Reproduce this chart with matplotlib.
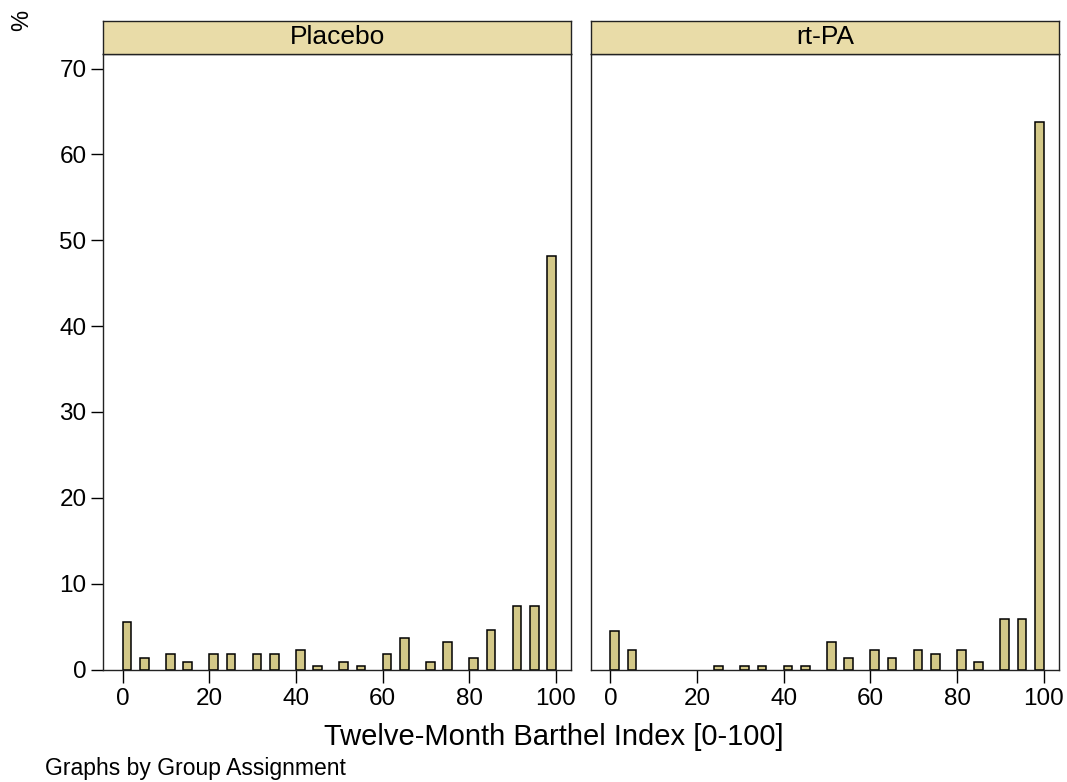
import numpy as np
import matplotlib
matplotlib.use("Agg")
from matplotlib import pyplot as plt

# Twelve-month Barthel index scores and percent of patients per group
scores = [0, 5, 10, 15, 20, 25, 30, 35, 40, 45, 50,
          55, 60, 65, 70, 75, 80, 85, 90, 95, 100]
placebo_pct = [5.56, 1.39, 1.85, 0.93, 1.85, 1.85, 1.85, 1.85, 2.31, 0.46, 0.93,
               0.46, 1.85, 3.70, 0.93, 3.24, 1.39, 4.63, 7.41, 7.41, 48.15]
rtpa_pct = [4.52, 2.26, 0.0, 0.0, 0.0, 0.45, 0.45, 0.45, 0.45, 0.45, 3.17,
            1.36, 2.26, 1.36, 2.26, 1.81, 2.26, 0.90, 5.88, 5.88, 63.80]
groups = ["Placebo", "rt-PA"]
yticks = [0, 10, 20, 30, 40, 50, 60, 70]
xticks = [0, 20, 40, 60, 80, 100]

plt.rcParams['font.family'] = ['Liberation Sans', 'DejaVu Sans']

bar_col = '#d3c888'
strip_col = '#e9dca8'
W, H = 1067, 782
fig = plt.figure(figsize=(W / 100, H / 100), dpi=100)

# histogram bins of width 2 between 0 and 100 (100 falls into the last bin)
bin_w = 2.0
sc = np.array(scores)
edges = np.minimum(np.floor(sc / bin_w) * bin_w, 100 - bin_w)

lefts = [103.2, 591.0]
ax_w = 467.8
ax_bottom = 669.5
ax_top = 54.0
strip_top = 21.0

for i, (name, pct) in enumerate(zip(groups, [placebo_pct, rtpa_pct])):
    pct = np.array(pct)
    keep = pct > 0  # empty bins draw nothing
    ax = fig.add_axes([lefts[i] / W, 1 - ax_bottom / H, ax_w / W, (ax_bottom - ax_top) / H])
    ax.bar(edges[keep], pct[keep], width=bin_w, align='edge', color=bar_col,
           edgecolor='black', linewidth=1.1)
    ax.set_xlim(-4.5, 103.5)
    ax.set_ylim(0, 71.7)
    ax.set_xticks(xticks)
    ax.tick_params(axis='x', length=9, width=1.0, labelsize=17.5, pad=4, colors='black')
    if i == 0:
        ax.set_yticks(yticks)
        ax.tick_params(axis='y', length=9, width=1.0, labelsize=17.5, pad=3)
    else:
        ax.set_yticks([])
    for sp in ax.spines.values():
        sp.set_linewidth(1.0)
        sp.set_color('#222222')

    # strip with panel title
    sax = fig.add_axes([lefts[i] / W, 1 - ax_top / H, ax_w / W, (ax_top - strip_top) / H])
    sax.set_facecolor(strip_col)
    sax.set_xticks([])
    sax.set_yticks([])
    for sp in sax.spines.values():
        sp.set_linewidth(1.0)
        sp.set_color('#222222')
    sax.text(0.5, 0.5, name, ha='center', va='center', fontsize=19,
             transform=sax.transAxes)

fig.text(22 / W, 1 - 20 / H, '%', rotation=90, ha='center', va='center', fontsize=17)
fig.text(554 / W, 1 - 737 / H, 'Twelve-Month Barthel Index [0-100]',
         ha='center', va='center', fontsize=21)
fig.text(45 / W, 1 - 768 / H, 'Graphs by Group Assignment',
         ha='left', va='center', fontsize=16.5)

fig.savefig('out.png', dpi=100, facecolor='white')
